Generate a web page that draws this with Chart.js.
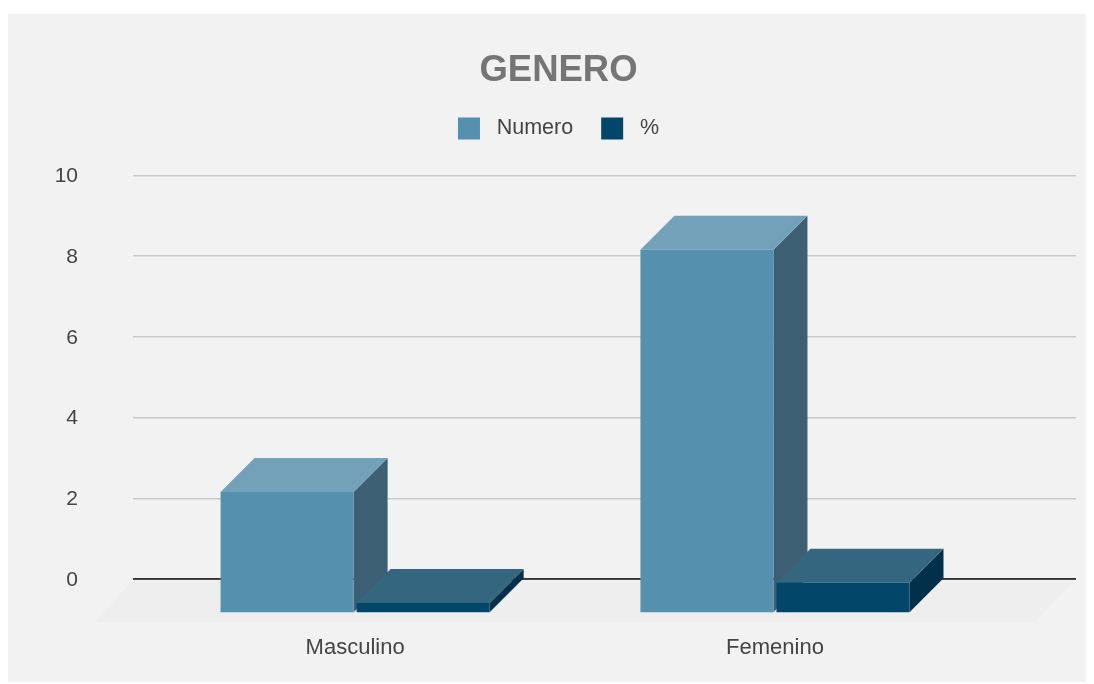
<!DOCTYPE html>
<html>
<head>
<meta charset="utf-8">
<title>GENERO</title>
<script src="https://cdn.jsdelivr.net/npm/chart.js@4"></script>
<style>
html, body { margin: 0; padding: 0; background: #fff; }
#wrap { position: relative; width: 1094px; height: 684px; overflow: hidden; }
#panel { position: absolute; left: 8px; top: 14px; width: 1078px; height: 668px; background: #f2f2f2; }
canvas { position: absolute; left: 0; top: 0; }
</style>
</head>
<body>
<div id="wrap">
  <div id="panel"></div>
  <canvas id="chart" width="1094" height="684"></canvas>
</div>
<script>
const categories = ['Masculino', 'Femenino'];
const numero = [3, 9];
const porcentaje = [0.25, 0.75];
const yTicks = [0, 2, 4, 6, 8, 10];

const FONT = '"Liberation Sans", Arial, sans-serif';
const DEPTH = 34;

// colores de cada cara: frontal, superior, lateral
const faces = [
    { front: '#5590ae', top: '#72a1b9', side: '#3d5f74' },
    { front: '#02476a', top: '#34677f', side: '#02304a' }
];

function poly(ctx, color, pts) {
    ctx.fillStyle = color;
    ctx.beginPath();
    pts.forEach((p, i) => i ? ctx.lineTo(p[0], p[1]) : ctx.moveTo(p[0], p[1]));
    ctx.closePath();
    ctx.fill();
}

// suelo, caras superior y lateral; el frontal lo dibuja Chart.js desplazado hacia abajo
const bars3d = {
    id: 'bars3d',
    beforeInit(chart) {
        // espacio entre la leyenda y el area del grafico
        const fit = chart.legend.fit;
        chart.legend.fit = function () {
            fit.call(this);
            this.height += 26;
        };
    },
    beforeDatasetsDraw(chart) {
        const ctx = chart.ctx;
        const area = chart.chartArea;
        const y0 = chart.scales.y.getPixelForValue(0);
        poly(ctx, '#eeeeee', [
            [area.left, y0 + 1], [area.right, y0 + 1],
            [area.right - 41, y0 + 43], [area.left - 38, y0 + 43]
        ]);
        // la linea del cero queda sobre el suelo
        ctx.fillStyle = '#333333';
        ctx.fillRect(area.left, y0 - 0.75, area.right - area.left, 1.5);

        chart.data.datasets.forEach((ds, d) => {
            chart.getDatasetMeta(d).data.forEach(el => {
                const { x, y, base, width } = el.getProps(['x', 'y', 'base', 'width'], true);
                const x0 = x - width / 2;
                const x1 = x + width / 2;
                poly(ctx, faces[d].side, [
                    [x1, y + DEPTH], [x1 + DEPTH, y], [x1 + DEPTH, base], [x1, base + DEPTH]
                ]);
                poly(ctx, faces[d].top, [
                    [x0, y + DEPTH], [x0 + DEPTH, y], [x1 + DEPTH, y], [x1, y + DEPTH]
                ]);
            });
        });
        ctx.save();
        ctx.translate(0, DEPTH);
    },
    afterDatasetsDraw(chart) {
        chart.ctx.restore();
    }
};

new Chart(document.getElementById('chart'), {
    type: 'bar',
    plugins: [bars3d],
    data: {
        datasets: [
            {
                label: 'Numero',
                data: categories.map((c, i) => ({ x: i, y: numero[i] })),
                backgroundColor: faces[0].front,
                clip: false
            },
            {
                label: '%',
                data: categories.map((c, i) => ({ x: i, y: porcentaje[i] })),
                backgroundColor: faces[1].front,
                clip: false
            }
        ]
    },
    options: {
        responsive: false,
        animation: false,
        devicePixelRatio: 1,
        categoryPercentage: 0.648,
        barPercentage: 0.978,
        layout: { padding: { top: 14, left: 41, right: 18, bottom: 0 } },
        plugins: {
            title: {
                display: true,
                text: 'GENERO',
                color: '#757575',
                font: { family: FONT, size: 36.5, weight: 'bold', lineHeight: 1 },
                padding: { top: 39, bottom: 0 }
            },
            legend: {
                position: 'top',
                labels: {
                    color: '#444444',
                    font: { family: FONT, size: 21.5 },
                    boxWidth: 22,
                    boxHeight: 22,
                    padding: 28,
                    generateLabels(chart) {
                        return Chart.defaults.plugins.legend.labels.generateLabels(chart).map(l => {
                            l.text = ' ' + l.text;
                            l.lineWidth = 0;
                            return l;
                        });
                    }
                }
            },
            tooltip: { enabled: false }
        },
        scales: {
            x: {
                type: 'linear',
                offset: false,
                min: -0.529,
                max: 1.717,
                afterBuildTicks(scale) {
                    scale.ticks = categories.map((c, i) => ({ value: i }));
                },
                afterFit(scale) {
                    scale.height = 105;
                },
                grid: { display: false },
                border: { display: false },
                ticks: {
                    autoSkip: false,
                    maxRotation: 0,
                    padding: 48,
                    color: '#444444',
                    font: { family: FONT, size: 22 },
                    callback: v => categories[v]
                }
            },
            y: {
                min: yTicks[0],
                max: yTicks[yTicks.length - 1],
                afterBuildTicks(scale) {
                    scale.ticks = yTicks.map(v => ({ value: v }));
                },
                afterFit(scale) {
                    scale.width = 92;
                },
                grid: {
                    drawTicks: false,
                    lineWidth: 1.5,
                    color: c => c.tick.value === 0 ? '#333333' : '#c9c9c9'
                },
                border: { display: false },
                ticks: {
                    padding: 55,
                    labelOffset: 1,
                    color: '#444444',
                    font: { family: FONT, size: 21 }
                }
            }
        }
    }
});
</script>
</body>
</html>
